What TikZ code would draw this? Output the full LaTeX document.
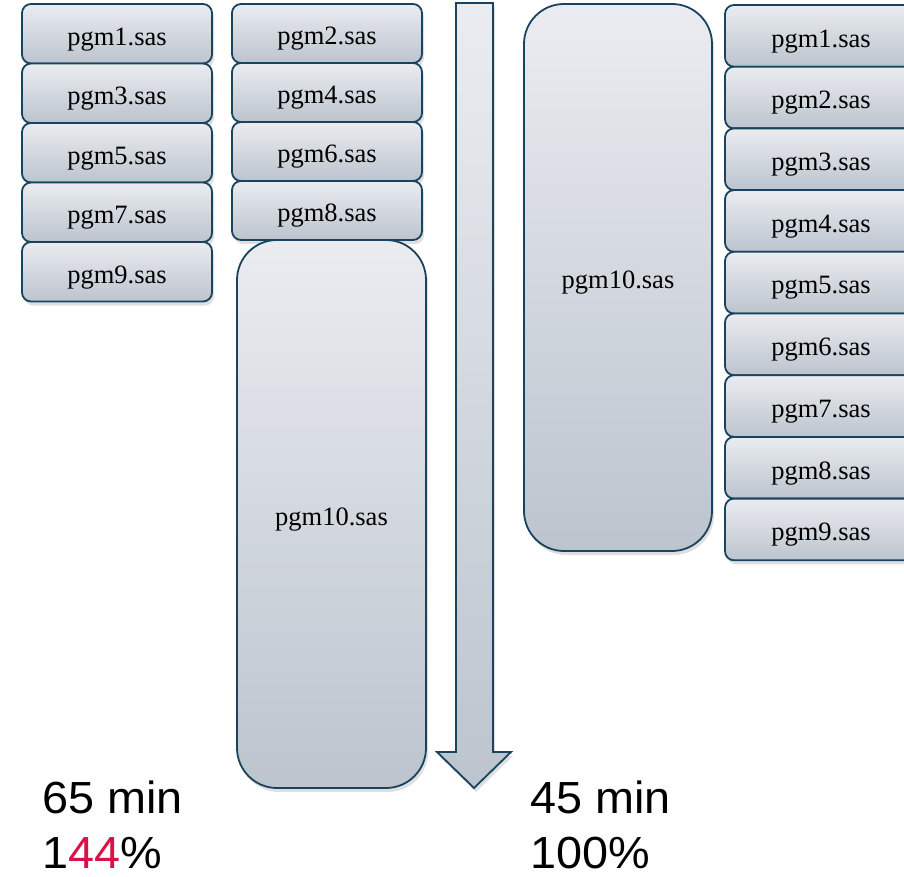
\documentclass[tikz,border=0pt]{standalone}
\usepackage{fontspec}
\setmainfont{Liberation Serif}
\newfontfamily\arialf{Liberation Sans}
\usetikzlibrary{shadows}
\definecolor{bord}{RGB}{24,68,96}
\definecolor{ftop}{RGB}{234,236,240}
\definecolor{fbot}{RGB}{188,196,206}
\definecolor{redn}{RGB}{214,18,72}
\begin{document}
\begin{tikzpicture}[x=1pt,y=-1pt,
  pbox/.style={draw=bord, line width=1.8pt, rounded corners=9pt,
    top color=ftop, bottom color=fbot, minimum width=190pt, minimum height=59.5pt,
    anchor=north west, inner sep=0pt, outer sep=0pt,
    text height=22.6pt, text depth=0pt,
    font=\fontsize{26.5}{28}\selectfont,
    drop shadow={opacity=0.25, shadow xshift=2pt, shadow yshift=-4pt}},
  bigbox/.style={pbox, rounded corners=40pt},
  lbl/.style={font=\arialf\fontsize{45}{50}\selectfont, anchor=base west, inner sep=0pt, xscale=1.04}]
\useasboundingbox (0,0) rectangle (904,877);
\clip (0,0) rectangle (904,877);
% left column
\node[pbox] (l1) at (22,4) {pgm1.sas};
\node[pbox] (l3) at (22,63.5) {pgm3.sas};
\node[pbox] (l5) at (22,123) {pgm5.sas};
\node[pbox] (l7) at (22,182.5) {pgm7.sas};
\node[pbox] (l9) at (22,242) {pgm9.sas};
% middle column
\node[pbox, minimum height=59pt] (m2) at (232,4) {pgm2.sas};
\node[pbox, minimum height=59pt] (m4) at (232,63) {pgm4.sas};
\node[pbox, minimum height=59pt] (m6) at (232,122) {pgm6.sas};
\node[pbox, minimum height=59pt] (m8) at (232,181) {pgm8.sas};
\node[bigbox, minimum width=189pt, minimum height=548pt] (m10) at (237,240) {pgm10.sas};
% arrow
\path[draw=bord, line width=1.8pt, top color=ftop, bottom color=fbot,
  drop shadow={opacity=0.25, shadow xshift=2pt, shadow yshift=-4pt}]
  (456,3) -- (493,3) -- (493,752) -- (511,752) -- (474,788) -- (437,752) -- (456,752) -- cycle;
% right big box
\node[bigbox, minimum width=188pt, minimum height=547pt] (r10) at (524,4) {pgm10.sas};
% right column
\foreach \i in {1,...,9}{
  \node[pbox, minimum width=192pt, minimum height=61.7pt] (r\i) at (725,{5+(\i-1)*61.7}) {pgm\i.sas};
}
% labels
\node[lbl] (t65) at (42,813) {65 min};
\node[lbl] (t144) at (42,868) {1\textcolor{redn}{44}\%};
\node[lbl] (t45) at (530,813) {45 min};
\node[lbl] (t100) at (530,868) {100\%};
\end{tikzpicture}
\end{document}
